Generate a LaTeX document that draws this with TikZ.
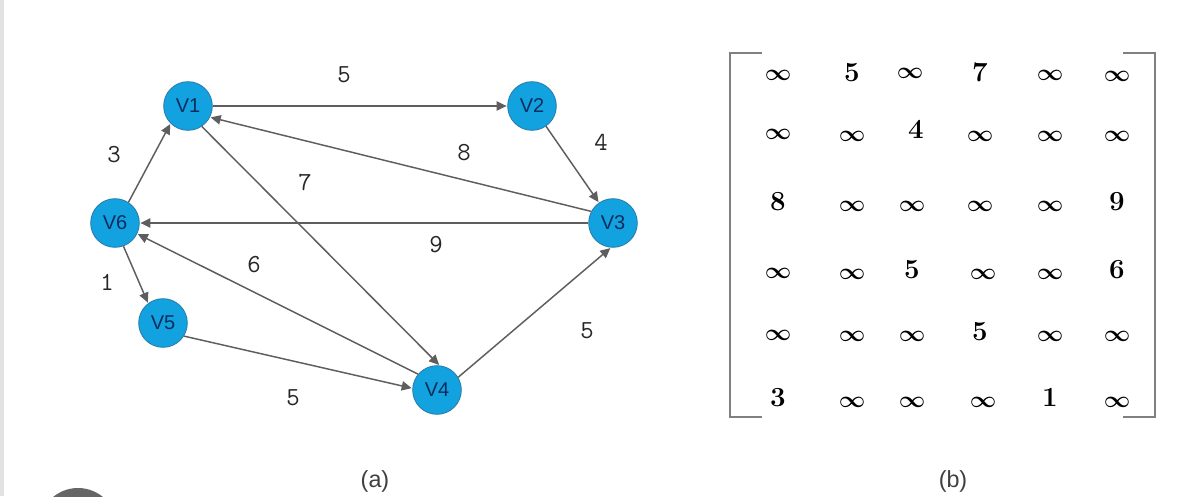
\documentclass[tikz,border=0pt]{standalone}
\usepackage{fontspec}
\setsansfont{Liberation Sans}
\usetikzlibrary{arrows.meta}
\definecolor{nodeblue}{HTML}{12A2E0}
\definecolor{nodeedge}{HTML}{2A7AA8}
\definecolor{nodetext}{HTML}{0B2D5E}
\definecolor{edgegray}{HTML}{5E5E5E}
\definecolor{brackgray}{HTML}{808080}
\definecolor{bordergray}{HTML}{E2E2E2}
\definecolor{dotgray}{HTML}{666666}
\tikzset{
  vert/.style={circle,fill=nodeblue,draw=nodeedge,line width=0.6pt,minimum size=36.5pt,inner sep=0pt,
    font=\sffamily\fontsize{15}{16}\selectfont,text=nodetext},
  arr/.style={draw=edgegray,line width=1.1pt,-{Triangle[length=7.5pt,width=7pt]},shorten >=0.5pt},
  wlab/.style={font=\ttfamily\fontsize{19.5}{20}\selectfont,text=black!85,inner sep=0pt},
  ment/.style={font=\fontsize{17.5}{20}\selectfont\boldmath,inner sep=0pt},
  mnum/.style={font=\fontsize{20}{24}\selectfont\boldmath,inner sep=0pt},
  brk/.style={draw=brackgray,line width=1.4pt},
  captext/.style={font=\sffamily\fontsize{17.5}{19}\selectfont,text=black!75,inner sep=0pt}
}
\begin{document}
\begin{tikzpicture}[x=0.75pt,y=-0.75pt]
\useasboundingbox (0,0) rectangle (1188,496);
\fill[white] (0,0) rectangle (1188,496);
\fill[bordergray] (0,0) rectangle (4,496);
\begin{scope}
\clip (0,0) rectangle (1188,496);
\fill[dotgray] (78,527) circle (39);
\end{scope}
% vertices
\node[vert] (V1) at (188,106) {V1};
\node[vert] (V2) at (532,106) {V2};
\node[vert] (V3) at (613,223) {V3};
\node[vert] (V6) at (115,223) {V6};
\node[vert] (V5) at (163,323) {V5};
\node[vert] (V4) at (437,390) {V4};
% edges
\draw[arr] (V1) -- (V2);
\draw[arr] (V2) -- (V3);
\draw[arr] (V3.152) -- (V1.-27);
\draw[arr] (V1.-56) -- (V4.84);
\draw[arr] (V3) -- (V6);
\draw[arr] (V6.57) -- (V1.-135);
\draw[arr] (V6.-70) -- (V5.127);
\draw[arr] (V4.140) -- (V6.-26);
\draw[arr] (V5.-32) -- (V4.176);
\draw[arr] (V4.31) -- (V3.-95);
% weights
\node[wlab] (w12) at (344,75) {5};
\node[wlab] (w23) at (601,142) {4};
\node[wlab] (w31) at (464,153) {8};
\node[wlab] (w14) at (305,183) {7};
\node[wlab] (w36) at (436,245) {9};
\node[wlab] (w61) at (114,155) {3};
\node[wlab] (w65) at (107,282) {1};
\node[wlab] (w46) at (254,265) {6};
\node[wlab] (w54) at (293,398) {5};
\node[wlab] (w43) at (587,331) {5};
% matrix brackets
\draw[brk] (762,53) -- (730,53) -- (730,417) -- (762,417);
\draw[brk] (1123,53) -- (1155,53) -- (1155,417) -- (1123,417);
% matrix entries
\node[ment] (m11) at (778,75) {$\infty$};
\node[mnum] (m12) at (852,73) {$5$};
\node[ment] (m13) at (910,73) {$\infty$};
\node[mnum] (m14) at (980,73) {$7$};
\node[ment] (m15) at (1050,75) {$\infty$};
\node[ment] (m16) at (1117,76) {$\infty$};
\node[ment] (m21) at (778,134) {$\infty$};
\node[ment] (m22) at (852,136) {$\infty$};
\node[mnum] (m23) at (916,130) {$4$};
\node[ment] (m24) at (980,136) {$\infty$};
\node[ment] (m25) at (1050,136) {$\infty$};
\node[ment] (m26) at (1117,136) {$\infty$};
\node[mnum] (m31) at (778,202) {$8$};
\node[ment] (m32) at (852,206) {$\infty$};
\node[ment] (m33) at (912,206) {$\infty$};
\node[ment] (m34) at (980,206) {$\infty$};
\node[ment] (m35) at (1050,206) {$\infty$};
\node[mnum] (m36) at (1117,202) {$9$};
\node[ment] (m41) at (778,273) {$\infty$};
\node[ment] (m42) at (852,274) {$\infty$};
\node[mnum] (m43) at (912,270) {$5$};
\node[ment] (m44) at (983,274) {$\infty$};
\node[ment] (m45) at (1050,274) {$\infty$};
\node[mnum] (m46) at (1117,270) {$6$};
\node[ment] (m51) at (778,335) {$\infty$};
\node[ment] (m52) at (852,336) {$\infty$};
\node[ment] (m53) at (912,336) {$\infty$};
\node[mnum] (m54) at (980,332) {$5$};
\node[ment] (m55) at (1050,336) {$\infty$};
\node[ment] (m56) at (1117,336) {$\infty$};
\node[mnum] (m61) at (778,398) {$3$};
\node[ment] (m62) at (852,402) {$\infty$};
\node[ment] (m63) at (912,402) {$\infty$};
\node[ment] (m64) at (983,402) {$\infty$};
\node[mnum] (m65) at (1050,398) {$1$};
\node[ment] (m66) at (1117,402) {$\infty$};
% captions
\node[captext] (capa) at (375,481) {(a)};
\node[captext] (capb) at (953,481) {(b)};
\end{tikzpicture}
\end{document}
